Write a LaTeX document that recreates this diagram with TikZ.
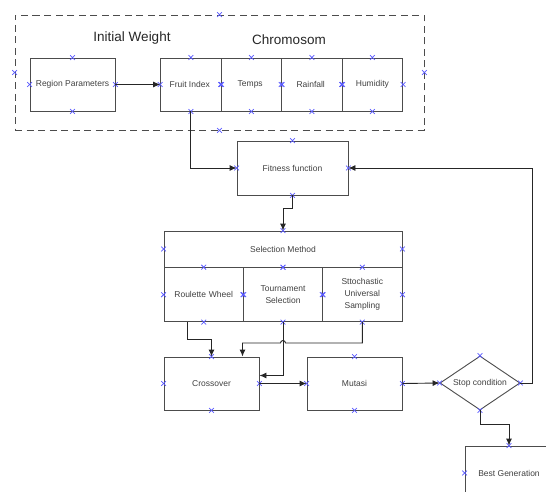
\documentclass[tikz,border=0pt]{standalone}
\usepackage{fontspec}
\setmainfont{Liberation Sans}
\usetikzlibrary{matrix}
\usetikzlibrary{shapes,arrows.meta,positioning}

\tikzset{
  box/.style={draw=black!70, line width=0.9pt, align=center, text=black!75,
    font=\fontsize{8.5}{12}\selectfont, minimum height=54pt, inner sep=1pt},
  title/.style={text=black!85, font=\fontsize{13.5}{15}\selectfont},
  cpt/.style={cross out, draw=blue!65, line width=0.75pt,
    minimum size=4pt, inner sep=0pt},
  link/.style={draw=black!85, line width=0.9pt,
    -{Latex[length=7pt,width=6pt]}}
}

\begin{document}
\begin{tikzpicture}[x=1pt,y=-1pt]
  \clip (0,0) rectangle (546,492);
  % initial weight and chromosome
  \node[draw=black!70, line width=0.9pt, dash pattern=on 7pt off 4.5pt,
    minimum width=409pt, minimum height=115pt, inner sep=0pt]
    (frame) at (219.5,72.5) {};
  \node[title] (iw) at (132,38) {Initial Weight};
  \node[title] (chr) at (289,40) {Chromosom};
  \node[box, minimum width=85pt, minimum height=53pt] (reg) at (72.5,84.5)
    {Region Parameters};
  \matrix[matrix of nodes, anchor=west, inner sep=0pt, column sep=-0.9pt,
    nodes={box, anchor=center, minimum width=60.5pt, minimum height=53pt}
  ] (chrom) at (160,84.5) {
    Fruit Index & Temps & Rainfall & Humidity\\
  };
  % fitness and selection
  \node[box, minimum width=111pt] (fit) at (292.5,168) {Fitness function};
  \node[box, minimum width=238pt, minimum height=36pt] (sel) at (283,249)
    {Selection Method};
  \matrix[matrix of nodes, below=-0.45pt of sel, inner sep=0pt,
    column sep=-0.9pt,
    nodes={box, anchor=center, minimum width=79.3pt, text width=74pt}
  ] (meth) {
    Roulette Wheel & {Tournament\\Selection}
      & {Sttochastic\\Universal\\Sampling}\\
  };
  % operators
  \node[box, minimum width=95pt, minimum height=53pt] (cro) at (211.5,383.5)
    {Crossover};
  \node[box, minimum width=95pt, minimum height=53pt] (mut) at (354.5,383.5)
    {Mutasi};
  \node[box, diamond, minimum width=80pt, minimum height=54pt, aspect=1.48,
    inner sep=0pt] (stop) at (480,383) {Stop condition};
  \node[box, minimum width=88pt] (best) at (509,473) {Best Generation};
  \coordinate (hop) at (285.5,343);

  % connection points
  \foreach \n in {frame, reg, chrom-1-1, chrom-1-2, chrom-1-3, chrom-1-4,
    fit, sel, meth-1-1, meth-1-2, meth-1-3, cro, mut, stop, best}
    \foreach \a in {north, south, east, west}
      \node[cpt] at (\n.\a) {};

  % connectors
  \draw[link] (reg.east) -- (chrom-1-1.west);
  \draw[link] (chrom-1-1.south) |- (fit.west);
  \draw[link] (fit.south) -- ++(0,13) -| (sel.north);
  \draw[link] ([xshift=-16pt]meth-1-1.south) -- ++(0,17) -| (cro.north);
  \draw[link] (meth-1-2.south) |- ([yshift=8pt]cro.east);
  \draw[link] (meth-1-3.south) |- (hop)
    arc[start angle=0, end angle=180, radius=2.5pt]
    -| ([xshift=31pt]cro.north);
  \draw[link] (cro.east) -- (mut.west);
  \draw[link] (mut.east) -- (stop.west);
  \draw[link] (stop.east) -- ++(12,0) |- (fit.east);
  \draw[link] (stop.south) -- ++(0,14) -| (best.north);
\end{tikzpicture}
\end{document}
